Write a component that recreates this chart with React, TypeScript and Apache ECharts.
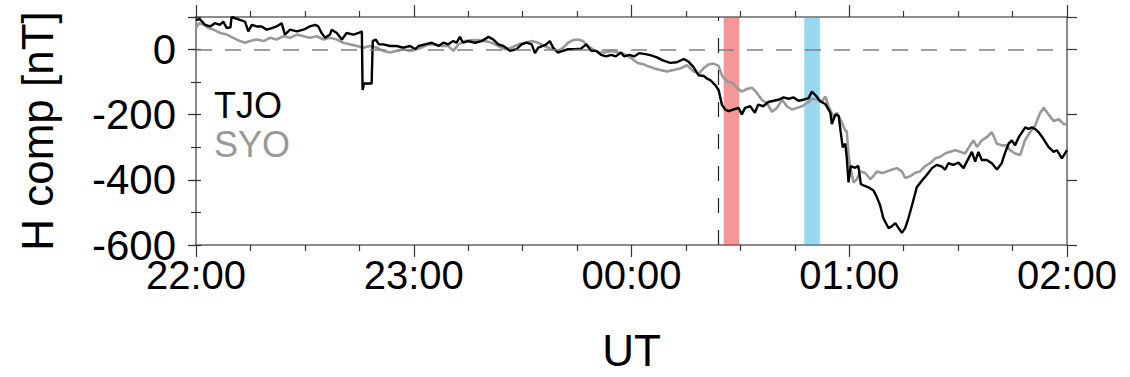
import React, { useEffect, useRef } from 'react';
import * as echarts from 'echarts';

// X axis: minutes after 22:00 UT
const tickLabels = ['22:00', '23:00', '00:00', '01:00', '02:00'];

const tjoMinutes = [
  0, 1.1, 2.5, 3.9, 5.2, 6.6, 7.5, 8.5, 9.5, 9.8, 12.1, 13.5, 14.4, 15.4, 16.7, 18.1, 19.5, 20.9, 22.2, 23.6,
  24.5, 25.9, 27.8, 29.6, 31.4, 32.8, 33.7, 34.6, 35.6, 36.9, 37.4, 38.8, 40.2, 41.5, 43.4, 44.8, 45.7, 45.9, 46.3, 48.4,
  48.7, 49.5, 50.4, 51.6, 53.5, 55.3, 57.1, 59, 60.4, 61.3, 63.1, 65, 66.8, 68.2, 69.5, 70.9, 71.8, 72.7, 73.6, 75,
  76.9, 78.7, 80.6, 81.9, 83.3, 84.7, 86.5, 88.3, 89.7, 91.1, 92.5, 93.4, 94.3, 95.6, 96.5, 97.5, 98.4, 99.7, 101.1, 102.5,
  104.3, 106.1, 107.5, 108.9, 110.3, 111.6, 113, 114.4, 115.7, 117.1, 118, 119.4, 120.7, 122.1, 123.8, 125.2, 127, 128.8, 130.7, 132.5,
  134.4, 135.7, 137.1, 138.5, 139.9, 140.8, 141.7, 143.1, 144, 144.5, 144.9, 145.8, 146.7, 148.1, 149.5, 150.4, 151.3, 152.7, 154, 154.9,
  156.3, 157.7, 159.2, 160.5, 161.9, 163.3, 164.7, 166, 167.4, 168.8, 169.7, 170.6, 172, 173.4, 174.8, 175.2, 176.2, 177.1, 177.6, 178.2,
  178.9, 179.3, 179.8, 180.4, 181.6, 182.5, 183.2, 184.1, 185.3, 186.7, 187.6, 188.5, 189.4, 190.8, 191.7, 192.7, 193.6, 194.5, 195.4, 196.3,
  197.3, 198.6, 200, 201.4, 202.8, 204.1, 205.5, 206.4, 207.3, 208.7, 210.1, 211.5, 212.4, 213.8, 214.7, 215.6, 216.5, 217.9, 219.3, 220.7,
  222, 222.9, 223.9, 224.8, 225.7, 226.7, 227.6, 228.5, 229.4, 230.3, 231.3, 232.2, 233.5, 234.9, 236.3, 237.2, 238.6, 240,
];
const tjoValues = [
  91, 93, 76, 71, 81, 76, 86, 66, 68, 100, 91, 86, 56, 76, 71, 71, 61, 66, 71, 81,
  46, 61, 56, 61, 71, 76, 71, 51, 36, 46, 61, 51, 31, 51, 46, 51, 56, -124, -104, -104,
  26, 31, 16, 16, 11, 11, 6, 11, 1, 11, 16, 21, 11, 21, 16, 26, 21, 39, 21, 26,
  21, 26, 39, 31, 16, 11, -4, 1, 16, 21, 16, -11, 6, 11, 16, 26, 6, -9, -4, 1,
  1, 3, 16, -4, -4, -16, -21, -16, -21, -9, -21, -16, -21, -11, -14, -17, -24, -34, -41, -39,
  -29, -37, -54, -79, -81, -89, -94, -109, -124, -149, -169, -184, -189, -184, -179, -199, -179, -174, -194, -169,
  -174, -161, -157, -154, -147, -151, -147, -157, -154, -149, -129, -139, -159, -167, -194, -229, -199, -204, -249, -300,
  -289, -329, -408, -358, -363, -357, -413, -418, -423, -433, -453, -478, -518, -548, -543, -533, -548, -563, -548, -518,
  -478, -423, -403, -384, -364, -354, -359, -369, -349, -354, -347, -364, -344, -314, -344, -314, -339, -339, -349, -368,
  -349, -318, -289, -279, -294, -269, -254, -239, -244, -239, -244, -254, -274, -299, -314, -309, -334, -309,
];

const syoMinutes = [
  0, 0.8, 2.2, 3.5, 4.9, 6.6, 8.5, 10.3, 12.1, 13.5, 14.9, 16.7, 18.6, 20.4, 22.2, 24.1, 25.9, 27.8, 29.6, 31.4,
  33.3, 35.1, 36.9, 38.8, 40.6, 42.4, 44.3, 46.1, 47.9, 49.8, 51.6, 53.5, 55.3, 57.1, 59, 60.8, 62.2, 64, 65.9, 67.7,
  69.5, 70.9, 72.3, 74.1, 76, 77.8, 79.6, 81.5, 83.3, 85.1, 87, 88.8, 90.6, 92.5, 94.3, 96.1, 98, 99.8, 101.2, 102.5,
  103.9, 105.3, 106.6, 108, 109.4, 110.7, 112.6, 114.4, 116.2, 118, 119.9, 121.7, 123.5, 124.2, 126.1, 127.9, 129.8, 131.6, 133.4, 135.3,
  137.1, 138.5, 139.9, 141.2, 142.6, 144, 144.9, 146.3, 147.7, 149.1, 150.4, 151.8, 153.2, 154.6, 155.9, 157.3, 158.7, 160.1, 161.5, 162.8,
  164.2, 165.6, 167, 168.4, 169.7, 171.1, 172.5, 173.4, 174.3, 175.7, 176.6, 178, 178.9, 179.3, 179.8, 180.2, 181.2, 182.1, 183, 184.4,
  185.8, 186.7, 187.6, 189, 190.4, 191.7, 193.1, 194.5, 195.4, 196.8, 198.2, 199.5, 200.9, 202.3, 203.7, 205.1, 206.4, 207.8, 209.2, 210.6,
  211.9, 213.3, 214.2, 215.2, 216.5, 217.9, 219.3, 220.7, 222, 223.4, 224.3, 225.7, 227.1, 228.4, 229.8, 231.2, 232.6, 233.6, 234.9, 236.3,
  237.7, 239.1, 240,
];
const syoValues = [
  66, 81, 76, 66, 61, 51, 46, 36, 26, 21, 26, 31, 26, 36, 31, 41, 36, 46, 41, 36,
  41, 31, 36, 31, 21, 16, 11, 6, 11, 6, -4, -9, -4, 1, -4, 1, 6, 16, 16, 11,
  11, -4, 16, 26, 29, 29, 26, 21, 11, 1, 6, 16, 21, 26, 21, 11, 1, -4, 6, 21,
  29, 31, 26, 11, 1, -9, -9, -4, -9, -14, -26, -41, -46, -50, -57, -63, -67, -63, -58, -48,
  -67, -74, -57, -46, -43, -50, -79, -99, -101, -119, -129, -121, -117, -134, -154, -164, -191, -179, -154, -174,
  -184, -179, -174, -164, -151, -154, -159, -144, -174, -209, -194, -224, -249, -250, -320, -358, -408, -398, -374, -379,
  -398, -388, -374, -379, -374, -369, -364, -374, -394, -389, -378, -374, -358, -349, -334, -329, -319, -314, -309, -314,
  -319, -294, -279, -299, -279, -269, -254, -289, -294, -294, -309, -319, -324, -279, -254, -234, -194, -179, -199, -219,
  -214, -229, -229,
];

const onsetMinute = 144; // 00:24 UT
const redBand = [145.4, 149.7];
const blueBand = [167.6, 171.9];

const FONT = "'Liberation Sans', Arial, Helvetica, sans-serif";

export default function App() {
  const ref = useRef<HTMLDivElement>(null);
  useEffect(() => {
    const chart = echarts.init(ref.current as HTMLDivElement, null, { renderer: 'svg' });
    const pair = (ts: number[], vs: number[]) => ts.map((t, i) => [t, vs[i]]);
    const axisLine = { show: true, onZero: false, lineStyle: { color: '#666', width: 1.5 } };
    const tickStyle = { color: '#333', width: 1.2 };
    chart.setOption({
      animation: false,
      backgroundColor: '#fff',
      grid: { left: 196, right: 63, top: 17, bottom: 127, containLabel: false },
      legend: {
        data: [
          { name: 'TJO', textStyle: { color: '#000' } },
          { name: 'SYO', textStyle: { color: '#999' } },
        ],
        orient: 'vertical',
        left: 209,
        top: 86,
        padding: 0,
        icon: 'none',
        itemWidth: 0,
        itemHeight: 0,
        itemGap: 0,
        selectedMode: false,
        textStyle: { fontFamily: FONT, fontSize: 36, lineHeight: 39 },
      },
      xAxis: [
        {
          type: 'value', position: 'bottom', min: 0, max: 240, interval: 60,
          name: 'UT', nameLocation: 'middle', nameGap: 83,
          nameTextStyle: { fontFamily: FONT, fontSize: 44, color: '#000' },
          axisLine,
          axisTick: { show: true, inside: false, length: 12, lineStyle: tickStyle },
          minorTick: { show: true, splitNumber: 4, length: 6, lineStyle: tickStyle },
          axisLabel: {
            formatter: (v: number) => tickLabels[Math.round(v / 60)] ?? '',
            fontFamily: FONT, fontSize: 40, lineHeight: 34, color: '#000', margin: 13,
          },
          splitLine: { show: false },
        },
        {
          type: 'value', position: 'top', min: 0, max: 240, interval: 60,
          axisLine,
          axisTick: { show: true, inside: false, length: 12, lineStyle: tickStyle },
          minorTick: { show: true, splitNumber: 4, length: 6, lineStyle: tickStyle },
          axisLabel: { show: false },
          splitLine: { show: false },
        },
      ],
      yAxis: [
        {
          type: 'value', position: 'left', min: -600, max: 100, interval: 200,
          name: 'H comp [nT]', nameLocation: 'middle', nameGap: 137, nameRotate: 90,
          nameTextStyle: { fontFamily: FONT, fontSize: 44, color: '#000' },
          axisLine,
          axisTick: { show: true, inside: false, length: 8, lineStyle: tickStyle },
          axisLabel: {
            formatter: (v: number) => (v > 0 ? '' : String(v)),
            fontFamily: FONT, fontSize: 42, lineHeight: 26, color: '#000', margin: 20,
          },
          splitLine: { show: false },
        },
        {
          type: 'value', position: 'left', min: -600, max: 100, interval: 100,
          axisLine: { show: false },
          axisTick: { show: true, inside: false, length: 5, lineStyle: tickStyle },
          axisLabel: { show: false },
          splitLine: { show: false },
        },
        {
          type: 'value', position: 'right', min: -600, max: 100, interval: 200,
          axisLine,
          axisTick: { show: true, inside: false, length: 10, lineStyle: tickStyle },
          axisLabel: { show: false },
          splitLine: { show: false },
        },
        {
          type: 'value', position: 'right', min: -600, max: 100, interval: 100,
          axisLine: { show: false },
          axisTick: { show: true, inside: false, length: 5, lineStyle: tickStyle },
          axisLabel: { show: false },
          splitLine: { show: false },
        },
      ],
      series: [
        {
          name: 'SYO', type: 'line', xAxisIndex: 0, yAxisIndex: 0, z: 2,
          data: pair(syoMinutes, syoValues), symbol: 'none', showSymbol: false,
          lineStyle: { color: '#999', width: 2.6 }, itemStyle: { color: '#999' },
          markLine: {
            silent: true, symbol: ['none', 'none'], label: { show: false },
            data: [
              { yAxis: 0, lineStyle: { color: '#808080', width: 1.6, type: [16, 13] } },
              { xAxis: onsetMinute, lineStyle: { color: '#222', width: 1.2, type: [15, 17] } },
            ],
          },
        },
        {
          name: 'TJO', type: 'line', xAxisIndex: 0, yAxisIndex: 0, z: 3,
          data: pair(tjoMinutes, tjoValues), symbol: 'none', showSymbol: false,
          lineStyle: { color: '#000', width: 2.4 }, itemStyle: { color: '#000' },
        },
        {
          name: 'bands', type: 'line', xAxisIndex: 0, yAxisIndex: 0, z: 4,
          data: [], symbol: 'none',
          markArea: {
            silent: true,
            data: [
              [{ xAxis: redBand[0], itemStyle: { color: 'rgba(235,45,50,0.5)' } }, { xAxis: redBand[1] }],
              [{ xAxis: blueBand[0], itemStyle: { color: 'rgba(51,177,229,0.5)' } }, { xAxis: blueBand[1] }],
            ],
          },
        },
      ],
    });
    return () => chart.dispose();
  }, []);
  return <div ref={ref} style={{ position: 'fixed', left: 0, top: 0, width: 1130, height: 377 }} />;
}
